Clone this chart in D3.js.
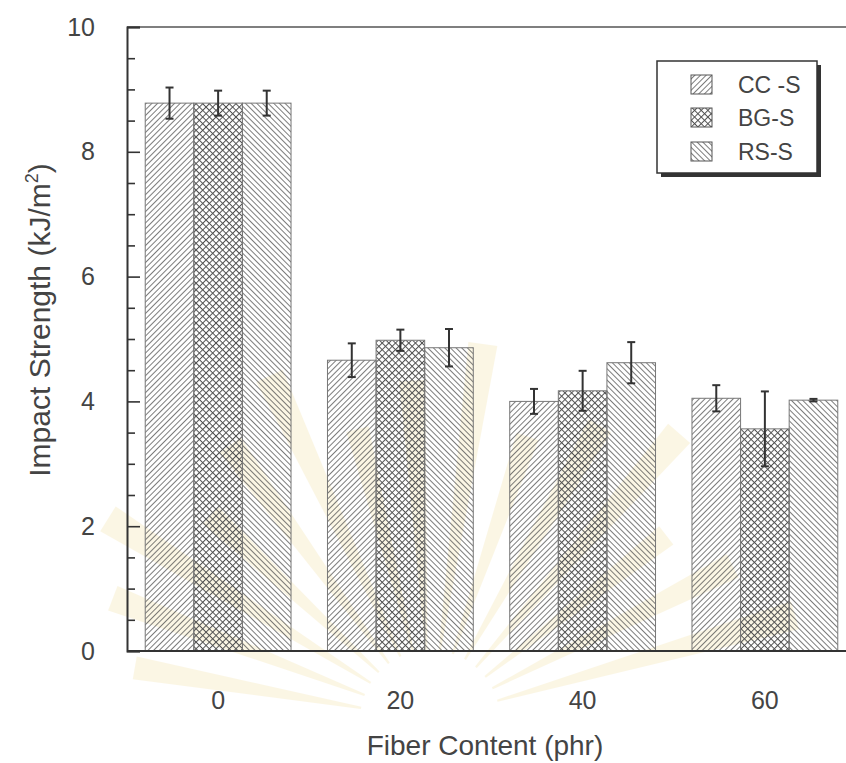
<!DOCTYPE html>
<html>
<head>
<meta charset="utf-8">
<script src="https://cdn.jsdelivr.net/npm/d3@7"></script>
<style>
  html, body { margin: 0; padding: 0; background: #ffffff; }
  svg { display: block; font-family: "Liberation Sans", Arial, Helvetica, sans-serif; }
</style>
</head>
<body>
<svg id="chart" width="846" height="763"></svg>
<script>
// ---------- data ----------
const categories = ["0", "20", "40", "60"];
const seriesNames = ["CC -S", "BG-S", "RS-S"];
const ccValues = [8.78, 4.66, 4.00, 4.05];
const ccErrors = [0.25, 0.27, 0.20, 0.21];
const bgValues = [8.78, 4.98, 4.17, 3.56];
const bgErrors = [0.20, 0.17, 0.32, 0.60];
const rsValues = [8.78, 4.86, 4.62, 4.02];
const rsErrors = [0.20, 0.30, 0.33, 0.02];
const yMajorTicks = [0, 2, 4, 6, 8, 10];
const xTitle = "Fiber Content (phr)";
const yTitle = "Impact Strength (kJ/m";

const seriesValues = [ccValues, bgValues, rsValues];
const seriesErrors = [ccErrors, bgErrors, rsErrors];
const patternIds = ["pat-cc", "pat-bg", "pat-rs"];

// ---------- layout ----------
const W = 846, H = 763;
const plotLeft = 127, plotTop = 27, plotBottom = 651, rightRange = 856;
const ink = "#333";

const svg = d3.select("#chart");
const defs = svg.append("defs");

// patterns
function hatch(id, angle, size, sw, both) {
  const p = defs.append("pattern")
    .attr("id", id).attr("patternUnits", "userSpaceOnUse")
    .attr("width", size).attr("height", size)
    .attr("patternTransform", `rotate(${angle})`);
  p.append("line").attr("x1", 0).attr("y1", 0).attr("x2", 0).attr("y2", size)
    .attr("stroke", "#505050").attr("stroke-width", sw);
  if (both) {
    p.append("line").attr("x1", 0).attr("y1", 0).attr("x2", size).attr("y2", 0)
      .attr("stroke", "#505050").attr("stroke-width", sw);
  }
}
hatch("pat-cc", 45, 4.0, 1.5, false);
hatch("pat-bg", 45, 4.7, 2.0, true);
hatch("pat-rs", -45, 4.0, 1.5, false);

// faint watermark rays (background decoration)
const wm = svg.append("g").attr("opacity", 0.22);
const wcx = 430, wcy = 720;
const rayAngles = d3.range(-170, -5, 11);
rayAngles.forEach((a, i) => {
  const r0 = 70, r1 = 300 + (i % 3) * 40;
  const da = 2.2;
  const p = (ang, r) => [wcx + r * Math.cos(ang * Math.PI / 180), wcy + r * Math.sin(ang * Math.PI / 180)];
  const pts = [p(a - da * 0.4, r0), p(a - da, r1), p(a + da, r1), p(a + da * 0.4, r0)];
  wm.append("path").attr("d", "M" + pts.map(q => q.join(",")).join("L") + "Z")
    .attr("fill", "#f0d98a");
});

// scales
const x = d3.scaleBand().domain(categories).range([plotLeft, rightRange])
  .paddingInner(0.2).paddingOuter(0.1);
const xs = d3.scaleBand().domain(seriesNames).range([0, x.bandwidth()]);
const y = d3.scaleLinear().domain([0, 10]).range([plotBottom, plotTop]);

// bars
const rows = [];
categories.forEach((c, ci) => {
  seriesNames.forEach((s, si) => {
    rows.push({ c, s, si, v: seriesValues[si][ci], e: seriesErrors[si][ci] });
  });
});

const gBars = svg.append("g");
gBars.selectAll("rect").data(rows).join("rect")
  .attr("x", d => x(d.c) + xs(d.s))
  .attr("y", d => y(d.v))
  .attr("width", xs.bandwidth())
  .attr("height", d => y(0) - y(d.v))
  .attr("fill", d => `url(#${patternIds[d.si]})`)
  .attr("stroke", "#777").attr("stroke-width", 1);

// error bars
const gErr = svg.append("g").attr("stroke", ink).attr("stroke-width", 2);
rows.forEach(d => {
  const cx = x(d.c) + xs(d.s) + xs.bandwidth() / 2;
  const y1 = y(d.v + d.e), y2 = y(d.v - d.e);
  gErr.append("line").attr("x1", cx).attr("x2", cx).attr("y1", y1).attr("y2", y2);
  gErr.append("line").attr("x1", cx - 4).attr("x2", cx + 4).attr("y1", y1).attr("y2", y1);
  gErr.append("line").attr("x1", cx - 4).attr("x2", cx + 4).attr("y1", y2).attr("y2", y2);
});

// frame
svg.append("line").attr("x1", plotLeft).attr("x2", W).attr("y1", plotTop).attr("y2", plotTop)
  .attr("stroke", "#555").attr("stroke-width", 1.6);
svg.append("line").attr("x1", plotLeft).attr("x2", W).attr("y1", plotBottom).attr("y2", plotBottom)
  .attr("stroke", ink).attr("stroke-width", 2);

// y axis
const yAxis = d3.axisLeft(y).tickValues(yMajorTicks).tickSize(-13).tickPadding(32)
  .tickFormat(d3.format("d"));
const gy = svg.append("g").attr("transform", `translate(${plotLeft},0)`).call(yAxis);
gy.select(".domain").attr("stroke", ink).attr("stroke-width", 2);
gy.selectAll(".tick line").attr("stroke", ink).attr("stroke-width", 1.6);
gy.selectAll(".tick text").attr("font-size", 25).attr("fill", "#444")
  .attr("font-family", "Liberation Sans, Arial, sans-serif");

const minorVals = d3.range(0, 10.01, 0.5).filter(v => !yMajorTicks.includes(v));
const gyMinor = svg.append("g").attr("transform", `translate(${plotLeft},0)`)
  .call(d3.axisLeft(y).tickValues(minorVals).tickSize(-8).tickFormat(""));
gyMinor.select(".domain").remove();
gyMinor.selectAll(".tick line").attr("stroke", ink).attr("stroke-width", 1.6);

// x axis labels
const gx = svg.append("g").attr("transform", `translate(0,${plotBottom})`)
  .call(d3.axisBottom(x).tickSize(0).tickPadding(40));
gx.select(".domain").remove();
gx.selectAll(".tick text").attr("font-size", 25).attr("fill", "#444")
  .attr("font-family", "Liberation Sans, Arial, sans-serif");

// axis titles
svg.append("text").attr("x", 485).attr("y", 755).attr("text-anchor", "middle")
  .attr("font-size", 28).attr("fill", "#444").text(xTitle);

const yt = svg.append("text")
  .attr("transform", "translate(50,320) rotate(-90)")
  .attr("text-anchor", "middle").attr("font-size", 30).attr("fill", "#444");
yt.append("tspan").text(yTitle);
yt.append("tspan").attr("font-size", 18).attr("dy", -12).text("2");
yt.append("tspan").attr("dy", 12).text(")");

// legend
const lg = svg.append("g");
lg.append("rect").attr("x", 661).attr("y", 65).attr("width", 160).attr("height", 112)
  .attr("fill", "#333");
lg.append("rect").attr("x", 657).attr("y", 61).attr("width", 160).attr("height", 112)
  .attr("fill", "#fff").attr("stroke", ink).attr("stroke-width", 1.5);
const legendY = [75, 108, 142];
seriesNames.forEach((s, i) => {
  lg.append("rect").attr("x", 691).attr("y", legendY[i]).attr("width", 21).attr("height", 19)
    .attr("fill", `url(#${patternIds[i]})`).attr("stroke", "#555").attr("stroke-width", 1);
  lg.append("text").attr("x", 738).attr("y", legendY[i] + 18)
    .attr("font-size", 23).attr("fill", "#444").text(s);
});
</script>
</body>
</html>
